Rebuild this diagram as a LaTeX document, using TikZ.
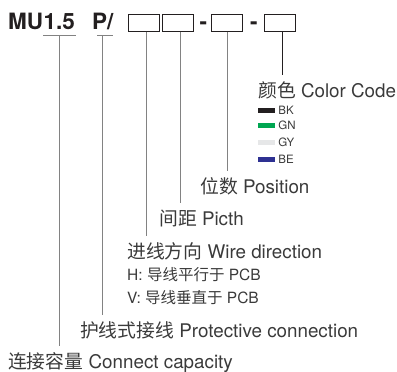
\documentclass[tikz,border=0pt]{standalone}
\usepackage{fontspec}
\setmainfont{TeX Gyre Heros}
\newfontfamily\cjk{Noto Sans CJK SC}
\usetikzlibrary{positioning, calc}
\definecolor{codedark}{RGB}{35, 31, 32}
\definecolor{textgray}{RGB}{58, 58, 58}
\definecolor{leadgray}{RGB}{130, 130, 130}
\definecolor{wireblack}{RGB}{35, 31, 32}
\definecolor{wiregreen}{RGB}{0, 166, 81}
\definecolor{wiregray}{RGB}{230, 231, 232}
\definecolor{wireblue}{RGB}{46, 49, 146}

\begin{document}
\begin{tikzpicture}[x=1pt, y=-1pt,
    code/.style={font=\fontsize{22.5}{22.5}\selectfont\bfseries, text=codedark,
                 inner sep=0pt, anchor=base west},
    slot/.style={draw=codedark, line width=0.8pt, minimum width=31pt,
                 minimum height=17pt, inner sep=0pt},
    desc/.style={font=\fontsize{18.8}{18.8}\selectfont, text=textgray,
                 inner xsep=0pt, inner ysep=6pt, anchor=base west},
    note/.style={font=\fontsize{15.5}{15.5}\selectfont, text=textgray,
                 inner xsep=0pt, anchor=base west},
    swatch/.style={minimum width=17pt, minimum height=5pt, inner sep=0pt},
    tag/.style={font=\fontsize{11.5}{11.5}\selectfont, text=textgray, inner sep=0pt},
    lead/.style={leadgray, line width=0.8pt}
  ]
    \useasboundingbox (0,0) rectangle (397,372);

    % part number
    \node[code] (mu) at (8,29) {MU};
    \node[code] (cap) at (mu.base east) {1.5};
    \node[code] (prot) at (92,29) {P/};
    \node[slot] (dir) at (143.8,22.6) {};
    \node[slot] (pitch) at (177.5,22.6) {};
    \node[code] (dasha) at (199.5,29) {-};
    \node[slot] (pos) at (226.7,22.6) {};
    \node[code] (dashb) at (250,29) {-};
    \node[slot] (color) at (279.7,22.6) {};

    % descriptions
    \node[desc] (colorlab) at (258,97) {{\cjk 颜色} Color Code};
    \node[desc] (poslab) at (200,193) {{\cjk 位数} Position};
    \node[desc] (pitchlab) at (159,225) {{\cjk 间距} Picth};
    \node[desc] (dirlab) at (127,258) {{\cjk 进线方向} Wire direction};
    \node[note] (hlab) at (127,280) {H: {\cjk 导线平行于} PCB};
    \node[note] (vlab) at (127,303) {V: {\cjk 导线垂直于} PCB};
    \node[desc] (protlab) at (80,337) {{\cjk 护线式接线} Protective connection};
    \node[desc] (caplab) at (8,368) {{\cjk 连接容量} Connect capacity};

    % colour legend
    \node[swatch, fill=wireblack] (bk) at (266.5,110.5) {};
    \node[tag, right=3pt of bk] (bktag) {BK};
    \node[swatch, fill=wiregreen] (gn) at (266.5,125.5) {};
    \node[tag, right=3pt of gn] (gntag) {GN};
    \node[swatch, fill=wiregray] (gy) at (266.5,142.5) {};
    \node[tag, right=3pt of gy] (gytag) {GY};
    \node[swatch, fill=wireblue] (be) at (266.5,159.5) {};
    \node[tag, right=3pt of be] (betag) {BE};

    % leads
    \coordinate (capmid) at ([xshift=0pt, yshift=-6pt]cap.base);
    \coordinate (protmid) at ([xshift=0pt, yshift=-6pt]prot.base);
    \draw[lead] ([yshift=-6pt]cap.base west) -- ([xshift=1pt, yshift=-6pt]cap.base east);
    \draw[lead] ([xshift=5pt, yshift=-6pt]prot.base west) -- ([xshift=-1pt, yshift=-6pt]prot.base east);
    \draw[lead] (capmid) -- (capmid |- caplab.north);
    \draw[lead] (protmid) -- (protmid |- protlab.north);
    \draw[lead] ([xshift=3pt]dir.south) -- ([xshift=3pt]dir.south |- dirlab.north);
    \draw[lead] ([xshift=2.5pt]pitch.south) -- ([xshift=2.5pt]pitch.south |- pitchlab.north);
    \draw[lead] ([xshift=1pt]pos.south) -- ([xshift=1pt]pos.south |- poslab.north);
    \draw[lead, codedark] ([xshift=3pt]color.south) -- ([xshift=3pt]color.south |- colorlab.north);
  \end{tikzpicture}
\end{document}
